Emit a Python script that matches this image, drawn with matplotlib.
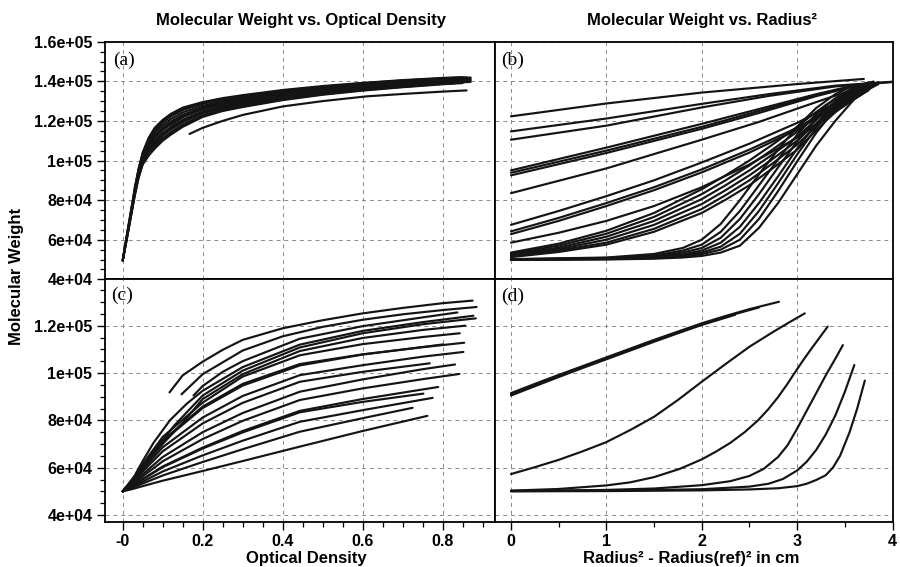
import numpy as np
import matplotlib
matplotlib.use("Agg")
import matplotlib.pyplot as plt
from matplotlib.ticker import MultipleLocator

# ---------------- data (MW values in thousands) ----------------
# Panel (a): molecular weight vs optical density
a_od = [
    [0.03, 0.04, 0.05, 0.065, 0.08, 0.1, 0.12, 0.15, 0.2, 0.25, 0.3, 0.4, 0.5, 0.6, 0.7, 0.8, 0.85],
    [0.0, 0.01, 0.02, 0.03, 0.04, 0.05, 0.065, 0.08, 0.1, 0.12, 0.15, 0.2, 0.25, 0.3, 0.4, 0.5, 0.6, 0.7, 0.8, 0.86],
    [0.0, 0.01, 0.02, 0.03, 0.04, 0.05, 0.065, 0.08, 0.1, 0.12, 0.15, 0.2, 0.25, 0.3, 0.4, 0.5, 0.6, 0.7, 0.8, 0.87],
    [0.05, 0.065, 0.08, 0.1, 0.12, 0.15, 0.2, 0.25, 0.3, 0.4, 0.5, 0.6, 0.7, 0.82],
    [0.0, 0.01, 0.02, 0.03, 0.04, 0.05, 0.065, 0.08, 0.1, 0.12, 0.15, 0.2, 0.25, 0.3, 0.4, 0.5, 0.6, 0.7, 0.8, 0.86],
    [0.03, 0.04, 0.05, 0.065, 0.08, 0.1, 0.12, 0.15, 0.2, 0.25, 0.3, 0.4, 0.5, 0.6, 0.7, 0.8, 0.85],
    [0.02, 0.03, 0.04, 0.05, 0.065, 0.08, 0.1, 0.12, 0.15, 0.2, 0.25, 0.3, 0.4, 0.5, 0.6, 0.7, 0.8, 0.87],
    [0.0, 0.01, 0.02, 0.03, 0.04, 0.05, 0.065, 0.08, 0.1, 0.12, 0.15, 0.2, 0.25, 0.3, 0.4, 0.5, 0.6, 0.7, 0.84],
    [0.0, 0.01, 0.02, 0.03, 0.04, 0.05, 0.065, 0.08, 0.1, 0.12, 0.15, 0.2, 0.25, 0.3, 0.4, 0.5, 0.6, 0.7, 0.8, 0.87],
    [0.065, 0.08, 0.1, 0.12, 0.15, 0.2, 0.25, 0.3, 0.4, 0.5, 0.6, 0.7, 0.8, 0.86],
    [0.0, 0.01, 0.02, 0.03, 0.04, 0.05, 0.065, 0.08, 0.1, 0.12, 0.15, 0.2, 0.25, 0.3, 0.4, 0.5, 0.6, 0.7, 0.8, 0.87],
    [0.04, 0.05, 0.065, 0.08, 0.1, 0.12, 0.15, 0.2, 0.25, 0.3, 0.4, 0.5, 0.6, 0.7, 0.8, 0.83],
    [0.0, 0.01, 0.02, 0.03, 0.04, 0.05, 0.065, 0.08, 0.1, 0.12, 0.15, 0.2, 0.25, 0.3, 0.4, 0.5, 0.6, 0.7, 0.8, 0.85],
    [0.12, 0.15, 0.2, 0.25, 0.3, 0.4, 0.5, 0.6, 0.7, 0.8, 0.87],
    [0.167, 0.2, 0.25, 0.3, 0.4, 0.5, 0.61, 0.7, 0.8, 0.86],
]
a_mw = [
    [86.0, 96.0, 104.0, 111.5, 116.5, 120.5, 123.5, 126.7, 129.5, 131.5, 133.0, 135.6, 137.6, 139.2, 140.6, 141.7, 142.1],
    [49.5, 61.9, 73.8, 85.8, 95.7, 103.6, 111.0, 115.9, 119.9, 122.9, 126.1, 129.1, 131.1, 132.6, 135.3, 137.3, 139.0, 140.4, 141.5, 142.0],
    [49.5, 61.8, 73.6, 85.5, 95.4, 103.3, 110.4, 115.2, 119.2, 122.2, 125.5, 128.6, 130.7, 132.3, 135.0, 137.1, 138.7, 140.2, 141.3, 141.9],
    [102.5, 109.3, 113.9, 117.9, 120.9, 124.3, 127.6, 129.9, 131.5, 134.3, 136.5, 138.2, 139.7, 141.0],
    [49.5, 61.3, 72.9, 84.5, 94.3, 101.8, 108.1, 112.6, 116.6, 119.6, 123.1, 126.7, 129.1, 130.8, 133.7, 136.0, 137.7, 139.3, 140.5, 141.1],
    [84.2, 94.0, 101.4, 107.5, 111.9, 115.9, 118.9, 122.4, 126.2, 128.6, 130.4, 133.4, 135.7, 137.5, 139.0, 140.3, 140.9],
    [72.5, 84.0, 93.8, 101.0, 107.0, 111.3, 115.3, 118.3, 121.9, 125.8, 128.3, 130.0, 133.1, 135.4, 137.3, 138.8, 140.1, 140.8],
    [49.5, 60.8, 72.1, 83.5, 93.2, 100.3, 105.9, 109.9, 113.9, 116.9, 120.6, 124.8, 127.4, 129.3, 132.4, 134.9, 136.8, 138.4, 140.0],
    [49.5, 60.6, 71.9, 83.2, 92.9, 99.9, 105.3, 109.3, 113.3, 116.3, 120.0, 124.3, 127.0, 128.9, 132.1, 134.6, 136.5, 138.1, 139.5, 140.2],
    [104.8, 108.6, 112.6, 115.6, 119.4, 123.9, 126.6, 128.5, 131.8, 134.3, 136.3, 137.9, 139.3, 140.0],
    [49.5, 60.3, 71.4, 82.5, 92.1, 98.8, 103.6, 107.3, 111.3, 114.3, 118.2, 122.9, 125.8, 127.8, 131.1, 133.8, 135.8, 137.5, 138.9, 139.7],
    [91.8, 98.4, 103.0, 106.6, 110.6, 113.6, 117.6, 122.5, 125.4, 127.4, 130.8, 133.5, 135.5, 137.2, 138.7, 139.0],
    [49.5, 60.0, 71.0, 82.0, 91.5, 98.0, 102.5, 106.0, 110.0, 113.0, 117.0, 122.0, 125.0, 127.0, 130.5, 133.2, 135.3, 137.0, 138.5, 139.1],
    [118.0, 122.0, 127.0, 129.5, 131.2, 134.0, 136.2, 137.9, 139.4, 140.6, 141.3],
    [113.4, 116.5, 120.0, 123.0, 127.3, 130.0, 132.4, 133.6, 134.8, 135.4],
]

# Panel (b): molecular weight vs radius^2 - radius(ref)^2
b_r2 = [
    [0, 1, 2, 3, 3.7],
    [0, 1, 2, 2.7, 3.4, 4.0],
    [0, 1, 2, 2.7, 3.4, 4.0],
    [0, 1, 2, 2.6, 3.2, 3.65],
    [0, 1, 2, 2.6, 3.2, 3.8],
    [0, 1, 2, 2.6, 3.2, 3.6],
    [0, 1, 2, 2.6, 3.2, 3.75],
    [0, 0.5, 1, 1.5, 2, 2.5, 3, 3.2, 3.4, 3.55, 3.7],
    [0, 0.5, 1, 1.5, 2, 2.5, 3, 3.2, 3.4, 3.6, 3.85],
    [0, 0.5, 1, 1.5, 2, 2.5, 3, 3.2, 3.4, 3.65],
    [0, 0.5, 1, 1.5, 2, 2.5, 3, 3.2, 3.4, 3.6, 3.75],
    [0, 0.5, 1, 1.5, 2, 2.25, 2.5, 2.75, 3, 3.15, 3.3, 3.45, 3.6],
    [0, 0.5, 1, 1.5, 2, 2.25, 2.5, 2.75, 3, 3.15, 3.3, 3.45, 3.6, 3.75],
    [0, 0.5, 1, 1.5, 2, 2.25, 2.5, 2.75, 3, 3.15, 3.3, 3.45, 3.6, 3.8],
    [0, 0.5, 1, 1.5, 2, 2.25, 2.5, 2.75, 3, 3.15, 3.3, 3.45, 3.6, 3.7],
    [0, 0.5, 1, 1.5, 2, 2.25, 2.5, 2.75, 3, 3.15, 3.3, 3.45, 3.6, 3.85],
    [0, 0.5, 1, 1.5, 2, 2.25, 2.5, 2.75, 3, 3.15, 3.3, 3.45, 3.6, 3.75],
    [0, 1.0, 1.5, 1.8, 2.0, 2.2, 2.4, 2.6, 2.8, 3.0, 3.2, 3.4, 3.6],
    [0, 1.0, 1.5, 1.8, 2.0, 2.2, 2.4, 2.6, 2.8, 3.0, 3.2, 3.4, 3.6, 3.75],
    [0, 1.0, 1.5, 1.8, 2.0, 2.2, 2.4, 2.6, 2.8, 3.0, 3.2, 3.4, 3.6, 3.7],
    [0, 1.0, 1.5, 1.8, 2.0, 2.2, 2.4, 2.6, 2.8, 3.0, 3.2, 3.4, 3.6, 3.8],
    [0, 1.0, 1.5, 1.8, 2.0, 2.2, 2.4, 2.6, 2.8, 3.0, 3.2, 3.4, 3.6, 3.7],
    [0, 1.0, 1.5, 1.8, 2.0, 2.2, 2.4, 2.6, 2.8, 3.0, 3.2, 3.4, 3.6, 3.85],
    [0, 1.0, 1.5, 1.8, 2.0, 2.2, 2.4, 2.6, 2.8, 3.0, 3.2, 3.4, 3.6, 3.8],
]
b_mw = [
    [122.3, 128.8, 134.3, 138.6, 141.2],
    [114.7, 121.2, 128.6, 133.5, 137.8, 139.8],
    [110.5, 117.6, 126.8, 132.6, 137.4, 139.6],
    [95.0, 106.5, 118.5, 126.0, 133.5, 138.5],
    [93.8, 105.0, 117.0, 125.0, 133.0, 139.8],
    [92.5, 103.8, 116.0, 124.0, 132.5, 137.5],
    [83.5, 96.0, 110.5, 119.5, 129.5, 138.5],
    [67.5, 74.5, 82.0, 90.0, 99.0, 108.5, 119.0, 124.0, 129.0, 133.0, 136.5],
    [64.2, 71.0, 78.5, 86.5, 95.5, 105.5, 116.5, 122.0, 127.5, 132.5, 138.5],
    [62.8, 69.5, 77.0, 85.0, 94.0, 104.0, 115.5, 121.2, 127.0, 133.5],
    [58.5, 63.5, 69.5, 77.0, 86.5, 98.0, 111.5, 118.0, 124.5, 131.0, 135.5],
    [53.5, 58.0, 64.5, 73.5, 85.5, 92.5, 100.0, 108.3, 117.0, 122.7, 128.0, 132.5, 136.0],
    [53.0, 57.0, 63.0, 71.5, 83.0, 90.0, 97.5, 105.8, 114.5, 120.5, 126.0, 131.0, 135.0, 138.5],
    [52.5, 56.0, 61.5, 69.5, 80.5, 87.5, 95.0, 103.3, 112.0, 118.5, 124.5, 129.8, 134.3, 139.0],
    [52.0, 55.2, 60.0, 67.5, 78.0, 85.0, 92.5, 101.0, 110.0, 116.7, 123.0, 128.8, 133.5, 137.5],
    [51.5, 54.5, 58.5, 65.5, 75.5, 82.5, 90.0, 98.8, 108.0, 115.0, 121.5, 127.5, 133.0, 139.2],
    [51.2, 53.8, 57.5, 64.0, 73.5, 80.2, 87.5, 96.3, 105.5, 112.8, 120.0, 126.5, 132.2, 137.5],
    [50.2, 51.0, 52.8, 55.8, 60.0, 68.0, 80.0, 93.0, 105.5, 117.0, 126.5, 133.5, 138.0],
    [50.1, 50.8, 52.0, 54.5, 57.5, 64.0, 74.5, 87.5, 100.5, 113.0, 123.5, 131.5, 137.0, 139.5],
    [50.0, 50.6, 51.6, 53.5, 55.8, 61.0, 70.5, 83.0, 96.5, 109.5, 121.0, 130.0, 136.5, 138.3],
    [50.0, 50.4, 51.2, 52.6, 54.5, 58.5, 66.5, 78.5, 92.0, 106.0, 118.5, 128.5, 136.0, 139.8],
    [49.9, 50.3, 50.9, 52.0, 53.5, 56.5, 63.0, 74.5, 88.5, 103.0, 116.5, 127.5, 135.5, 137.8],
    [49.9, 50.2, 50.7, 51.5, 52.7, 55.0, 60.0, 70.5, 84.5, 99.5, 114.0, 126.0, 135.0, 139.5],
    [49.8, 50.0, 50.4, 51.0, 51.8, 53.5, 57.0, 66.0, 78.5, 93.0, 107.5, 120.0, 131.0, 137.5],
]

# Panel (c): molecular weight vs optical density (second data set)
c_od = [
    [0.117, 0.15, 0.2, 0.25, 0.3, 0.4, 0.5, 0.6, 0.7, 0.8, 0.875],
    [0.147, 0.2, 0.3, 0.4, 0.5, 0.6, 0.7, 0.8, 0.885],
    [0.177, 0.2, 0.25, 0.3, 0.443, 0.6, 0.75, 0.837],
    [0.033, 0.05, 0.077, 0.118, 0.16, 0.2, 0.3, 0.443, 0.6, 0.75, 0.877],
    [0.04, 0.06, 0.09, 0.13, 0.2, 0.3, 0.443, 0.6, 0.75, 0.883],
    [0.045, 0.07, 0.1, 0.15, 0.2, 0.3, 0.443, 0.6, 0.75, 0.857],
    [0, 0.025, 0.05, 0.1, 0.2, 0.3, 0.443, 0.6, 0.75, 0.843],
    [0, 0.025, 0.05, 0.1, 0.2, 0.3, 0.443, 0.6, 0.75, 0.854],
    [0, 0.025, 0.05, 0.1, 0.2, 0.3, 0.443, 0.6, 0.802],
    [0, 0.025, 0.05, 0.1, 0.2, 0.3, 0.443, 0.6, 0.75, 0.852],
    [0, 0.025, 0.05, 0.1, 0.2, 0.3, 0.443, 0.6, 0.768],
    [0, 0.025, 0.05, 0.1, 0.2, 0.3, 0.443, 0.6, 0.75, 0.831],
    [0, 0.025, 0.05, 0.1, 0.2, 0.3, 0.443, 0.6, 0.75, 0.842],
    [0, 0.025, 0.05, 0.1, 0.2, 0.3, 0.443, 0.6, 0.789],
    [0, 0.025, 0.05, 0.1, 0.2, 0.3, 0.443, 0.6, 0.752],
    [0, 0.025, 0.05, 0.1, 0.2, 0.3, 0.443, 0.6, 0.775],
    [0, 0.025, 0.05, 0.1, 0.2, 0.3, 0.443, 0.6, 0.725],
    [0, 0.025, 0.05, 0.1, 0.2, 0.3, 0.443, 0.6, 0.762],
]
c_mw = [
    [91.8, 99.0, 104.8, 109.8, 114.0, 118.9, 122.3, 125.2, 127.5, 129.5, 130.6],
    [91.0, 99.5, 109.5, 115.5, 119.5, 122.5, 124.8, 126.6, 127.9],
    [90.5, 94.5, 100.5, 105.0, 114.5, 119.8, 123.5, 125.6],
    [57.6, 62.8, 70.5, 80.0, 87.0, 92.5, 102.5, 112.0, 117.8, 121.5, 124.2],
    [58.2, 62.5, 69.5, 78.0, 90.5, 101.0, 110.8, 116.8, 120.6, 123.1],
    [58.8, 64.0, 70.0, 79.0, 89.0, 99.5, 109.3, 114.8, 118.2, 120.0],
    [50.0, 55.5, 61.5, 73.0, 87.5, 98.5, 107.5, 112.2, 115.2, 116.8],
    [50.0, 54.9, 60.8, 71.5, 85.8, 95.4, 103.8, 107.9, 110.9, 112.8],
    [50.0, 54.8, 60.6, 71.1, 85.2, 94.7, 103.2, 107.8, 112.1],
    [50.0, 54.3, 59.3, 68.6, 81.2, 90.3, 99.1, 103.3, 106.9, 108.9],
    [50.0, 53.9, 58.4, 66.9, 78.7, 87.4, 96.3, 100.5, 104.1],
    [50.0, 53.4, 57.2, 64.5, 75.0, 83.1, 92.1, 97.3, 101.6, 103.6],
    [50.0, 52.9, 56.3, 62.7, 72.1, 79.8, 88.6, 93.5, 97.4, 99.6],
    [50.0, 52.4, 55.2, 60.5, 68.5, 75.5, 84.0, 89.0, 94.1],
    [50.0, 52.3, 55.0, 60.2, 68.1, 74.9, 83.4, 87.8, 91.3],
    [50.0, 51.9, 54.1, 58.4, 65.2, 71.4, 79.4, 84.3, 89.5],
    [50.0, 51.6, 53.3, 56.7, 62.4, 67.8, 75.2, 80.9, 85.3],
    [50.0, 51.0, 52.2, 54.5, 58.6, 62.8, 68.9, 75.5, 81.9],
]

# Panel (d): molecular weight vs radius^2 - radius(ref)^2 (second data set)
d_r2 = [
    [0, 0.25, 0.5, 0.75, 1, 1.25, 1.5, 1.75, 2, 2.25, 2.5, 2.81],
    [0, 0.25, 0.5, 0.75, 1, 1.25, 1.5, 1.75, 2, 2.35],
    [0, 0.25, 0.5, 0.75, 1, 1.25, 1.5, 1.75, 2, 2.25, 2.6],
    [0, 0.25, 0.5, 0.75, 1, 1.25, 1.5, 1.75, 2, 2.25, 2.5, 2.75, 2.9, 3.08],
    [0, 0.5, 1, 1.25, 1.5, 1.77, 2, 2.15, 2.3, 2.45, 2.59, 2.7, 2.8, 2.9, 2.97, 3.06, 3.15, 3.24, 3.32],
    [0, 1, 1.5, 2.0, 2.3, 2.5, 2.65, 2.8, 2.9, 3.0, 3.1, 3.2, 3.3, 3.4, 3.48],
    [0, 1, 2, 2.5, 2.7, 2.85, 3.0, 3.1, 3.2, 3.3, 3.4, 3.5, 3.6],
    [0, 1, 2, 2.5, 2.8, 3.0, 3.1, 3.2, 3.3, 3.375, 3.45, 3.55, 3.63, 3.71],
]
d_mw = [
    [91.5, 95.4, 99.2, 102.9, 106.6, 110.3, 114.0, 117.5, 121.0, 124.1, 127.0, 130.1],
    [90.5, 94.4, 98.3, 102.1, 105.8, 109.5, 113.2, 116.8, 120.3, 124.6],
    [91.0, 94.9, 98.8, 102.5, 106.2, 109.9, 113.6, 117.2, 120.7, 123.8, 127.7],
    [57.3, 60.2, 63.3, 66.9, 70.8, 75.9, 81.5, 88.6, 96.3, 103.8, 111.1, 117.4, 121.0, 125.2],
    [50.3, 51.0, 52.5, 53.8, 56.0, 59.5, 63.5, 66.8, 70.5, 75.0, 80.0, 84.8, 89.8, 95.5, 99.8, 105.2, 110.3, 115.2, 119.6],
    [50.2, 50.6, 51.2, 52.6, 54.3, 56.5, 59.5, 64.5, 69.5, 76.5, 84.0, 91.5, 99.0, 106.0, 111.8],
    [50.1, 50.3, 50.9, 52.0, 53.2, 55.2, 58.8, 62.5, 67.5, 74.0, 82.0, 92.0, 103.4],
    [50.0, 50.1, 50.4, 50.8, 51.3, 52.2, 53.2, 54.8, 56.8, 60.0, 65.0, 75.0, 85.0, 96.8],
]

od_ticks = [0.0, 0.2, 0.4, 0.6, 0.8]
od_tick_labels = ["-0", "0.2", "0.4", "0.6", "0.8"]
r2_ticks = [0, 1, 2, 3, 4]
r2_tick_labels = ["0", "1", "2", "3", "4"]
top_mw_ticks = [40000, 60000, 80000, 100000, 120000, 140000, 160000]
top_mw_labels = ["4e+04", "6e+04", "8e+04", "1e+05", "1.2e+05", "1.4e+05", "1.6e+05"]
bot_mw_ticks = [40000, 60000, 80000, 100000, 120000]
bot_mw_labels = ["4e+04", "6e+04", "8e+04", "1e+05", "1.2e+05"]
KILO = 1000.0

# ---------------- figure ----------------
plt.rcParams["font.family"] = ["Liberation Sans", "DejaVu Sans"]
plt.rcParams["font.weight"] = "bold"

W, H = 900, 567
fig = plt.figure(figsize=(W / 100, H / 100), dpi=100)

def px_axes(x0, y0, x1, y1):
    return fig.add_axes([x0 / W, 1 - y1 / H, (x1 - x0) / W, (y1 - y0) / H])

ax_a = px_axes(105, 41.7, 495, 279.3)
ax_b = px_axes(495, 41.7, 892.5, 279.3)
ax_c = px_axes(105, 279.3, 495, 521.7)
ax_d = px_axes(495, 279.3, 892.5, 521.7)

LINE = "#141414"
GRID = "#8a8a8a"

def draw(ax, xs_list, ys_list):
    for xs, ys in zip(xs_list, ys_list):
        ax.plot(xs, np.asarray(ys) * KILO, color=LINE, lw=1.55,
                solid_joinstyle="round", solid_capstyle="round", zorder=3)

draw(ax_a, a_od, a_mw)
draw(ax_b, b_r2, b_mw)
draw(ax_c, c_od, c_mw)
draw(ax_d, d_r2, d_mw)

top_ylim = (40000, 160000)
bot_ylim = (37170, 139600)
od_xlim = (-0.0443, 0.931)
r2_xlim = (-0.1675, 4.0)

for ax in (ax_a, ax_b, ax_c, ax_d):
    for s in ax.spines.values():
        s.set_linewidth(1.3)
        s.set_color("black")
    ax.grid(True, which="major", color=GRID, lw=0.7, ls=(0, (4, 4)))
    ax.tick_params(which="major", direction="out", length=6, width=1.0,
                   labelsize=11.5, pad=3)
    ax.tick_params(which="minor", direction="out", length=3.5, width=0.9)

# (a)
ax_a.set_xlim(*od_xlim); ax_a.set_ylim(*top_ylim)
ax_a.set_xticks(od_ticks)
ax_a.set_yticks(top_mw_ticks, top_mw_labels)
ax_a.yaxis.set_minor_locator(MultipleLocator(5000))
ax_a.tick_params(axis="x", which="both", bottom=False, labelbottom=False)

# (c)
ax_c.set_xlim(*od_xlim); ax_c.set_ylim(*bot_ylim)
ax_c.set_xticks(od_ticks, od_tick_labels)
ax_c.xaxis.set_minor_locator(MultipleLocator(0.05))
ax_c.set_yticks(bot_mw_ticks, bot_mw_labels)
ax_c.yaxis.set_minor_locator(MultipleLocator(5000))

# (b)
ax_b.set_xlim(*r2_xlim); ax_b.set_ylim(*top_ylim)
ax_b.set_xticks(r2_ticks)
ax_b.set_yticks(top_mw_ticks)
ax_b.tick_params(axis="both", which="both", bottom=False, labelbottom=False,
                 left=False, labelleft=False)

# (d)
ax_d.set_xlim(*r2_xlim); ax_d.set_ylim(*bot_ylim)
ax_d.set_xticks(r2_ticks, r2_tick_labels)
ax_d.xaxis.set_minor_locator(MultipleLocator(0.5))
ax_d.set_yticks(bot_mw_ticks)
ax_d.tick_params(axis="y", which="both", left=False, labelleft=False)

# panel letters
serif = ["Liberation Serif", "DejaVu Serif"]
for ax, lab, xf, yf in ((ax_a, "(a)", 0.0205, 0.923), (ax_b, "(b)", 0.0143, 0.923),
                        (ax_c, "(c)", 0.015, 0.932), (ax_d, "(d)", 0.0143, 0.928)):
    ax.text(xf, yf, lab, transform=ax.transAxes, ha="left", va="center",
            fontsize=14, family=serif, weight="normal")

# titles and axis labels
fig.text(301 / W, 1 - 21 / H, "Molecular Weight vs. Optical Density",
         ha="center", va="center", fontsize=12, weight="bold")
fig.text(702 / W, 1 - 21 / H, "Molecular Weight vs. Radius\u00b2",
         ha="center", va="center", fontsize=12, weight="bold")
fig.text(16.7 / W, 1 - 276 / H, "Molecular Weight", rotation=90,
         ha="center", va="center", fontsize=12, weight="bold")
fig.text(306 / W, 1 - 558 / H, "Optical Density",
         ha="center", va="center", fontsize=12, weight="bold")
fig.text(691 / W, 1 - 558 / H, "Radius\u00b2 - Radius(ref)\u00b2 in cm",
         ha="center", va="center", fontsize=12, weight="bold")

fig.savefig("out.png", dpi=100)
